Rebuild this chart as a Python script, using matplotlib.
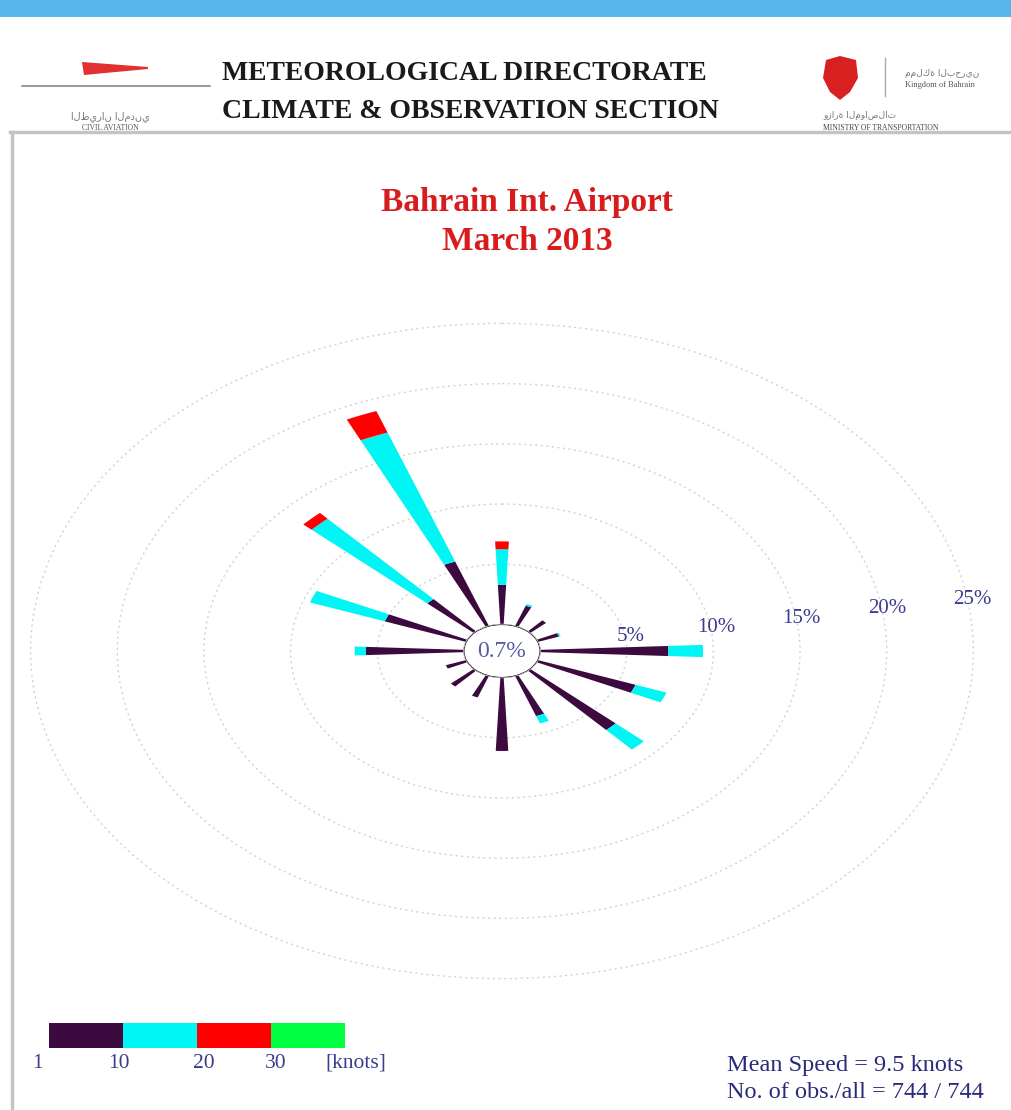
import numpy as np
import matplotlib
matplotlib.use("Agg")
import matplotlib.pyplot as plt
from matplotlib.patches import Polygon, Rectangle

# ---------------- data ----------------
directions = ["N", "NNE", "NE", "ENE", "E", "ESE", "SE", "SSE",
              "S", "SSW", "SW", "WSW", "W", "WNW", "NW", "NNW"]
dir_deg = [0, 22.5, 45, 67.5, 90, 112.5, 135, 157.5,
           180, 202.5, 225, 247.5, 270, 292.5, 315, 337.5]
speed_bins = ["1-10", "10-20", "20-30", ">30"]
freq_1_10 = [3.3, 1.8, 1.25, 1.3, 7.4, 6.0, 6.7, 3.55,
             6.1, 1.9, 1.8, 1.25, 5.65, 5.0, 3.65, 5.7]
freq_10_20 = [2.95, 0.15, 0.0, 0.1, 2.0, 1.9, 2.2, 0.65,
              0.0, 0.0, 0.0, 0.0, 0.65, 4.6, 9.05, 11.4]
freq_20_30 = [0.65, 0, 0, 0, 0, 0, 0, 0,
              0, 0, 0, 0, 0, 0, 0.65, 1.9]
freq_30_up = [0] * 16
bin_colors = ["#3d0a40", "#00f5f5", "#ff0000", "#00ff40"]
legend_ticks = ["1", "10", "20", "30"]
ring_values = [5, 10, 15, 20, 25]
ring_labels = ["5%", "10%", "15%", "20%", "25%"]
calm_pct = "0.7%"
station = "Bahrain Int. Airport"
period = "March 2013"
mean_speed = 9.5
n_obs, n_all = 744, 744

SERIF = ["Liberation Serif", "DejaVu Serif"]
LBL = "#3c3c8c"

W, H = 1012, 1110
fig = plt.figure(figsize=(W / 100, H / 100), dpi=100)
fig.patch.set_facecolor("white")

def fx(px):
    return px / W

def fy(py):
    return 1 - py / H

# ---------------- header ----------------
hdr = fig.add_axes([0, 0, 1, 1], zorder=0)
hdr.set_xlim(0, W)
hdr.set_ylim(H, 0)
hdr.axis("off")
hdr.add_patch(Rectangle((0, 0), W, 17, color="#5ab4ec", lw=0))
# left logo (pennant + line)
hdr.add_patch(Polygon([(82, 62), (148, 67), (148, 69), (84, 75)], closed=True,
                      color="#e03030", lw=0))
hdr.plot([22, 210], [86, 86], color="#555555", lw=1.2, alpha=0.7)
hdr.text(110, 117, "الطيران المدني", fontsize=7, color="#777777",
         ha="center", va="center", family=["DejaVu Sans"])
hdr.text(110, 128, "CIVIL AVIATION", fontsize=5.5, color="#555555",
         ha="center", va="center", family=SERIF)
hdr.text(222, 73, "METEOROLOGICAL DIRECTORATE", fontsize=20, weight="bold",
         color="#1a1a1a", ha="left", va="center", family=SERIF)
hdr.text(222, 112, "CLIMATE & OBSERVATION SECTION", fontsize=20, weight="bold",
         color="#1a1a1a", ha="left", va="center", family=SERIF)
# right logo
hdr.add_patch(Polygon([(826, 60), (840, 56), (856, 60), (858, 78), (850, 92),
                       (840, 100), (830, 92), (823, 78)], closed=True,
                      color="#d82020", lw=0))
hdr.plot([885, 885], [58, 96], color="#aaaaaa", lw=1)
hdr.text(905, 73, "مملكة البحرين", fontsize=6.5, color="#777777",
         ha="left", va="center", family=["DejaVu Sans"])
hdr.text(905, 85, "Kingdom of Bahrain", fontsize=6, color="#555555",
         ha="left", va="center", family=SERIF)
hdr.text(823, 116, "وزارة المواصلات", fontsize=6.5, color="#777777",
         ha="left", va="center", family=["DejaVu Sans"])
hdr.text(823, 128, "MINISTRY OF TRANSPORTATION", fontsize=5.5, color="#444444",
         ha="left", va="center", family=SERIF)
# frame lines
hdr.plot([10, W], [132, 132], color="#c4c4c4", lw=2.5)
hdr.plot([12, 12], [132, H], color="#c4c4c4", lw=2.5)

# titles
fig.text(fx(527), fy(203), station, fontsize=24, weight="bold", color="#d81c1c",
         ha="center", va="center", family=SERIF)
fig.text(fx(527), fy(242), period, fontsize=24, weight="bold", color="#d81c1c",
         ha="center", va="center", family=SERIF)

# ---------------- wind rose ----------------
cx, cy = 502, 651
r_off = 2.2
r_max = 25.3
px_per = 17.33
rx = (r_max + r_off) * px_per
ry = rx * 0.695
ax = fig.add_axes([fx(cx - rx), fy(cy + ry), 2 * rx / W, 2 * ry / H],
                  projection="polar", zorder=2)
ax.set_aspect("auto")
ax.set_theta_zero_location("N")
ax.set_theta_direction(-1)
ax.set_rorigin(-r_off)
ax.set_ylim(0, r_max)
ax.set_facecolor("none")
for sp in ax.spines.values():
    sp.set_visible(False)
ax.set_xticks([])
ax.set_rgrids(ring_values, labels=[""] * len(ring_values))
ax.yaxis.grid(True, color="#d2d2d2", linestyle=(0, (1.5, 2.5)), lw=1.0)
ax.xaxis.grid(False)

theta = np.deg2rad(dir_deg)
width = np.deg2rad(5.0)
bottom = np.zeros(len(directions))
for vals, col in zip([freq_1_10, freq_10_20, freq_20_30, freq_30_up], bin_colors):
    v = np.array(vals, dtype=float)
    ax.bar(theta, v, width=width, bottom=bottom, color=col, edgecolor="none",
           linewidth=0, zorder=3)
    bottom = bottom + v

circ = np.linspace(0, 2 * np.pi, 300)
ax.plot(circ, np.zeros_like(circ), color="#e0e0e0", lw=0.9, zorder=4)
ax.text(0.5, 0.5, calm_pct, transform=ax.transAxes, ha="center", va="center",
        fontsize=17, color="#5a5aa8", family=SERIF, zorder=5)

lab_theta = np.deg2rad(81)
for rv, lab in zip(ring_values, ring_labels):
    ax.text(lab_theta, rv + 0.3, lab, ha="center", va="center", fontsize=15,
            color=LBL, family=SERIF, zorder=5)

# ---------------- legend bar ----------------
lx0, lx1, ly0, ly1 = 49, 345, 1023, 1048
lax = fig.add_axes([fx(lx0), fy(ly1), (lx1 - lx0) / W, (ly1 - ly0) / H], zorder=3)
lax.bar(np.arange(len(speed_bins)), [1] * len(speed_bins), width=1.0,
        align="edge", color=bin_colors, edgecolor="none")
lax.set_xlim(0, len(speed_bins))
lax.set_ylim(0, 1)
lax.axis("off")
offs = [-0.15, -0.05, 0.09, 0.07]
for i, t in enumerate(legend_ticks):
    lax.text(i + offs[i], -0.6, t, ha="center", va="center", fontsize=15.5,
             color=LBL, family=SERIF, clip_on=False)
lax.text(3.73, -0.6, "[knots]", ha="left", va="center", fontsize=15.5,
         color=LBL, family=SERIF, clip_on=False)

# ---------------- stats ----------------
fig.text(fx(727), fy(1065), f"Mean Speed = {mean_speed} knots", fontsize=17.5,
         color="#2a2a7a", ha="left", va="center", family=SERIF)
fig.text(fx(727), fy(1092), f"No. of obs./all = {n_obs} / {n_all}", fontsize=17.5,
         color="#2a2a7a", ha="left", va="center", family=SERIF)

fig.savefig("out.png", dpi=100, facecolor="white")
